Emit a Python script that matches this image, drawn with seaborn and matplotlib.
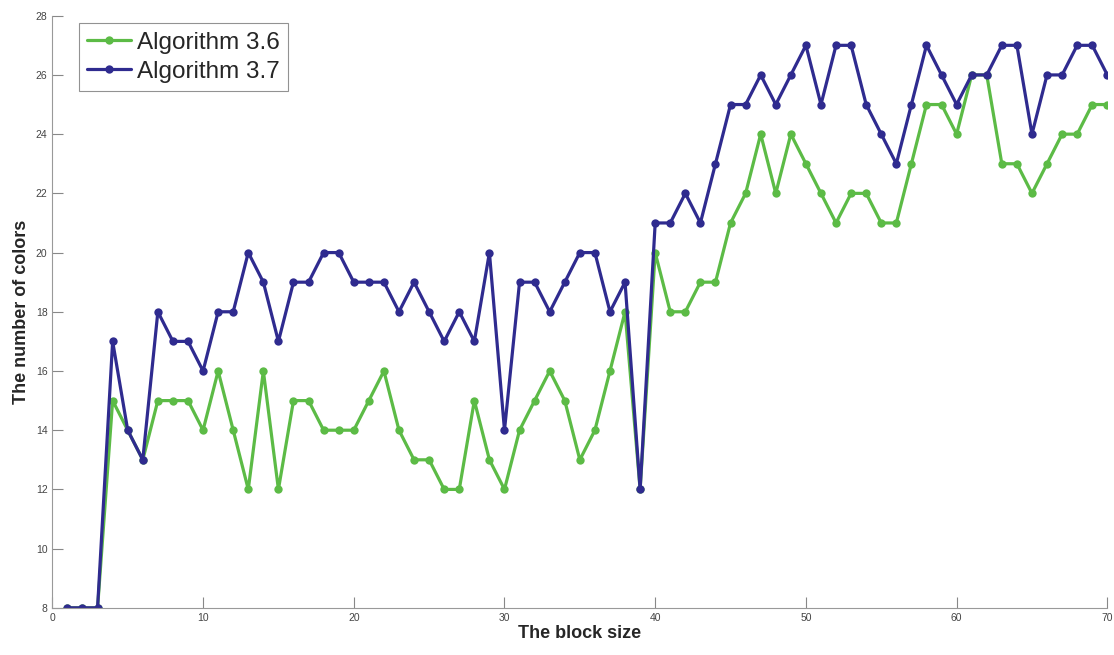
import numpy as np
import pandas as pd
import matplotlib

matplotlib.use("Agg")
import matplotlib.pyplot as plt
import seaborn as sns

block_size = list(range(1, 71))

alg_36 = [8, 8, 8, 15, 14, 13, 15, 15, 15, 14,
          16, 14, 12, 16, 12, 15, 15, 14, 14, 14,
          15, 16, 14, 13, 13, 12, 12, 15, 13, 12,
          14, 15, 16, 15, 13, 14, 16, 18, 12, 20,
          18, 18, 19, 19, 21, 22, 24, 22, 24, 23,
          22, 21, 22, 22, 21, 21, 23, 25, 25, 24,
          26, 26, 23, 23, 22, 23, 24, 24, 25, 25]

alg_37 = [8, 8, 8, 17, 14, 13, 18, 17, 17, 16,
          18, 18, 20, 19, 17, 19, 19, 20, 20, 19,
          19, 19, 18, 19, 18, 17, 18, 17, 20, 14,
          19, 19, 18, 19, 20, 20, 18, 19, 12, 21,
          21, 22, 21, 23, 25, 25, 26, 25, 26, 27,
          25, 27, 27, 25, 24, 23, 25, 27, 26, 25,
          26, 26, 27, 27, 24, 26, 26, 27, 27, 26]

series_names = ["Algorithm 3.6", "Algorithm 3.7"]
colors = ["#5cbb46", "#2f2b8f"]

df = pd.DataFrame({
    "block": block_size * 2,
    "colors": alg_36 + alg_37,
    "algorithm": [series_names[0]] * len(alg_36) + [series_names[1]] * len(alg_37),
})

sns.set_style("ticks")
plt.rcParams["font.family"] = ["Liberation Sans", "DejaVu Sans"]

fig = plt.figure(figsize=(11.14, 6.55), dpi=100)
ax = fig.add_axes([0.047, 0.072, 0.947, 0.904])

sns.lineplot(data=df, x="block", y="colors", hue="algorithm",
             palette=dict(zip(series_names, colors)),
             marker="o", markersize=6, markeredgewidth=0,
             linewidth=2.3, ax=ax)

ax.set_xlim(0, 70)
ax.set_ylim(8, 28)
ax.set_xticks(range(0, 71, 10))
ax.set_yticks(range(8, 29, 2))
ax.tick_params(direction="in", length=8, width=0.8, labelsize=7.5,
               colors="#888888", labelcolor="#444444")
for side in ["top", "right"]:
    ax.spines[side].set_visible(False)
for side in ["left", "bottom"]:
    ax.spines[side].set_color("#999999")
    ax.spines[side].set_linewidth(0.8)

ax.set_xlabel("The block size", fontsize=13, fontweight="bold", labelpad=2)
ax.set_ylabel("The number of colors", fontsize=13, fontweight="bold", labelpad=4)

leg = ax.legend(loc="upper left", bbox_to_anchor=(0.018, 1.0), fontsize=17.5,
                frameon=True, fancybox=False, handlelength=1.8,
                handletextpad=0.25, borderpad=0.35, labelspacing=0.3,
                borderaxespad=0.3)
leg.get_frame().set_edgecolor("#777777")
leg.get_frame().set_linewidth(0.8)

fig.savefig("out.png", dpi=100)
plt.close(fig)
